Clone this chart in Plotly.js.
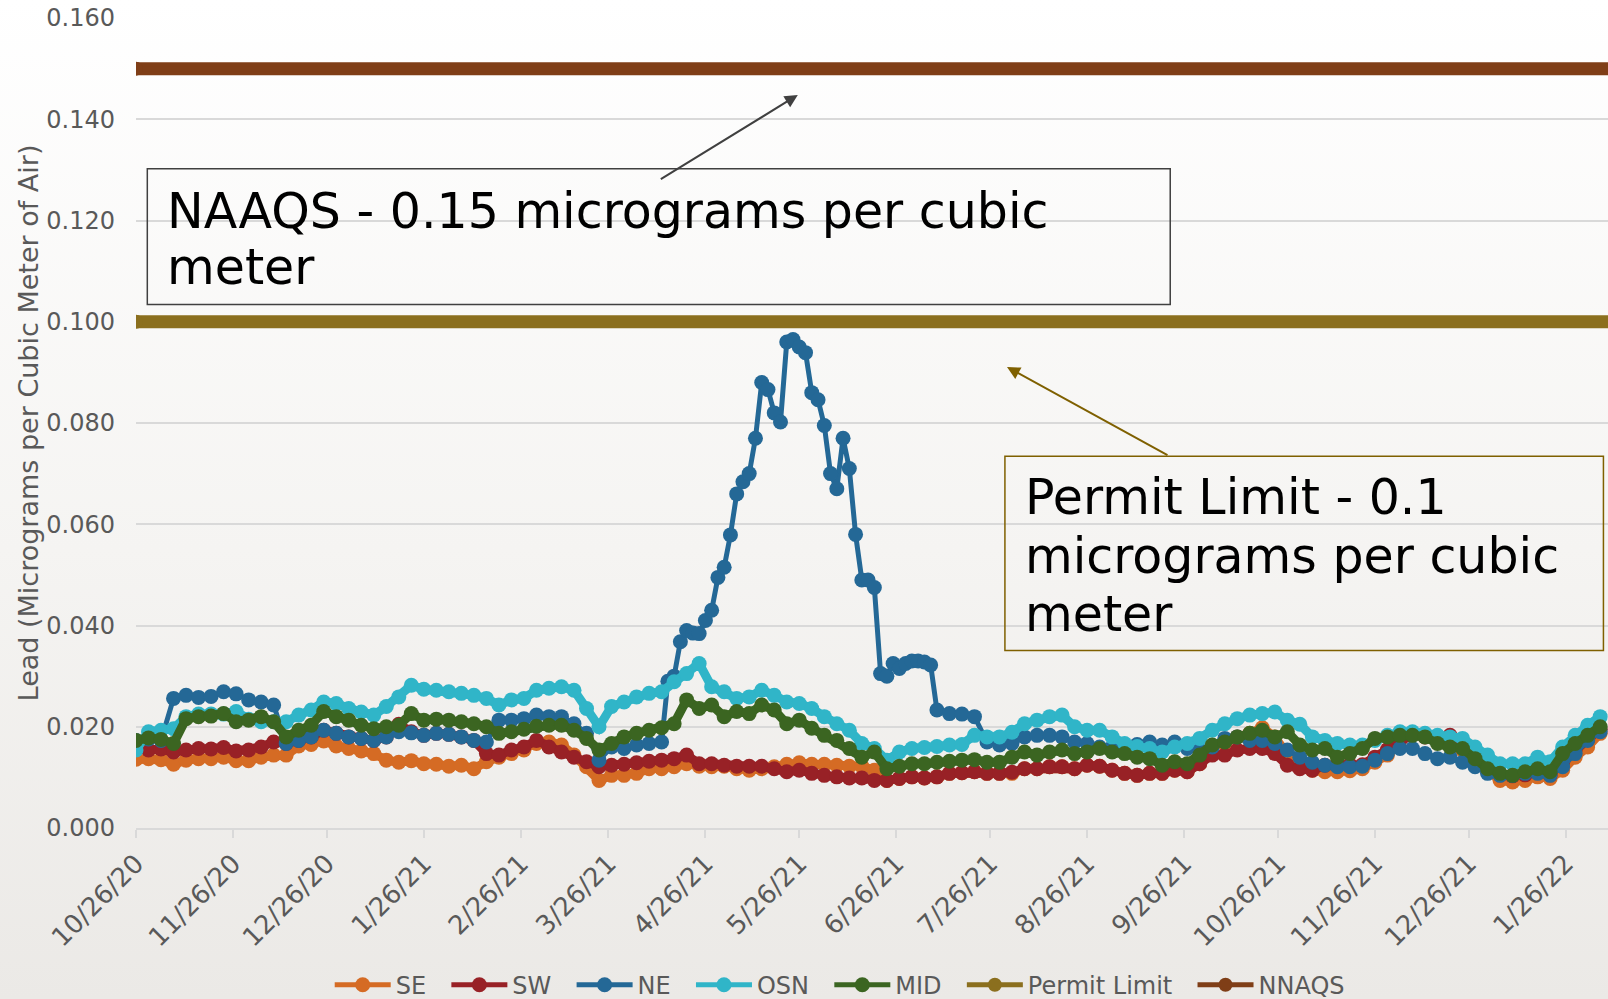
<!DOCTYPE html>
<html>
<head>
<meta charset="utf-8">
<script src="https://cdn.plot.ly/plotly-3.0.1.min.js"></script>
<style>
  html, body { margin: 0; padding: 0; }
  #wrap { width: 1608px; height: 999px; background: linear-gradient(to bottom, #ffffff 0%, #f5f4f2 55%, #ebe9e6 100%); }
  #chart { width: 1608px; height: 999px; }
</style>
</head>
<body>
<div id="wrap"><div id="chart"></div></div>
<script>
// ---- sampling grid (every 4 days from the first date) ----
const startDate = '2020-10-26';
const stepDays = 4;

// ---- series values (micrograms per cubic meter) ----
const seValues = [
  0.0136, 0.0137, 0.0135, 0.0126, 0.0134, 0.0137, 0.0137, 0.0140, 0.0133, 0.0133,
  0.0140, 0.0144, 0.0144, 0.0162, 0.0165, 0.0172, 0.0162, 0.0157, 0.0152, 0.0147,
  0.0134, 0.0130, 0.0133, 0.0127, 0.0126, 0.0122, 0.0124, 0.0117, 0.0131, 0.0140,
  0.0147, 0.0154, 0.0167, 0.0170, 0.0164, 0.0144, 0.0121, 0.0094, 0.0104, 0.0104,
  0.0108, 0.0117, 0.0117, 0.0121, 0.0127, 0.0122, 0.0121, 0.0122, 0.0117, 0.0114,
  0.0117, 0.0121, 0.0126, 0.0129, 0.0126, 0.0126, 0.0124, 0.0122, 0.0122, 0.0114,
  0.0094, 0.0098, 0.0101, 0.0099, 0.0101, 0.0108, 0.0109, 0.0111, 0.0108, 0.0108,
  0.0108, 0.0117, 0.0117, 0.0121, 0.0121, 0.0117, 0.0124, 0.0122, 0.0114, 0.0108,
  0.0104, 0.0108, 0.0108, 0.0114, 0.0111, 0.0127, 0.0160, 0.0168, 0.0180, 0.0187,
  0.0198, 0.0180, 0.0145, 0.0125, 0.0114, 0.0111, 0.0111, 0.0113, 0.0117, 0.0130,
  0.0144, 0.0173, 0.0187, 0.0183, 0.0173, 0.0167, 0.0154, 0.0134, 0.0111, 0.0094,
  0.0091, 0.0094, 0.0101, 0.0098, 0.0114, 0.0140, 0.0160, 0.0187
];
const swValues = [
  0.0158, 0.0154, 0.0156, 0.0150, 0.0154, 0.0157, 0.0156, 0.0159, 0.0152, 0.0154,
  0.0160, 0.0170, 0.0167, 0.0173, 0.0180, 0.0193, 0.0187, 0.0180, 0.0177, 0.0173,
  0.0180, 0.0205, 0.0190, 0.0183, 0.0187, 0.0185, 0.0180, 0.0173, 0.0147, 0.0144,
  0.0154, 0.0160, 0.0173, 0.0160, 0.0150, 0.0140, 0.0131, 0.0121, 0.0124, 0.0126,
  0.0129, 0.0132, 0.0134, 0.0137, 0.0144, 0.0127, 0.0127, 0.0124, 0.0122, 0.0122,
  0.0122, 0.0117, 0.0111, 0.0114, 0.0108, 0.0104, 0.0101, 0.0099, 0.0099, 0.0094,
  0.0094, 0.0098, 0.0101, 0.0099, 0.0101, 0.0108, 0.0109, 0.0111, 0.0108, 0.0108,
  0.0110, 0.0117, 0.0117, 0.0121, 0.0121, 0.0117, 0.0124, 0.0122, 0.0114, 0.0108,
  0.0104, 0.0108, 0.0108, 0.0114, 0.0111, 0.0127, 0.0144, 0.0144, 0.0154, 0.0157,
  0.0157, 0.0147, 0.0124, 0.0117, 0.0114, 0.0124, 0.0125, 0.0125, 0.0125, 0.0140,
  0.0155, 0.0175, 0.0185, 0.0180, 0.0175, 0.0183, 0.0160, 0.0135, 0.0115, 0.0105,
  0.0103, 0.0105, 0.0110, 0.0105, 0.0130, 0.0155, 0.0175, 0.0195
];
const neValues = [
  0.0173, 0.0176, 0.0173, 0.0256, 0.0262, 0.0258, 0.0260, 0.0269, 0.0265, 0.0253,
  0.0249, 0.0243, 0.0167, 0.0173, 0.0180, 0.0193, 0.0187, 0.0180, 0.0177, 0.0173,
  0.0180, 0.0190, 0.0188, 0.0183, 0.0187, 0.0185, 0.0180, 0.0173, 0.0170, 0.0213,
  0.0213, 0.0216, 0.0223, 0.0220, 0.0220, 0.0206, 0.0187, 0.0134, 0.0160, 0.0157,
  0.0164, 0.0167, 0.0170, 0.0300, 0.0390, 0.0384, 0.0430, 0.0515, 0.0660, 0.0700,
  0.0880, 0.0820, 0.0960, 0.0950, 0.0860, 0.0795, 0.0670, 0.0710, 0.0490, 0.0475,
  0.0300, 0.0315, 0.0330, 0.0328, 0.0233, 0.0226, 0.0225, 0.0220, 0.0170, 0.0164,
  0.0167, 0.0180, 0.0183, 0.0183, 0.0180, 0.0170, 0.0167, 0.0160, 0.0160, 0.0160,
  0.0165, 0.0170, 0.0164, 0.0170, 0.0157, 0.0154, 0.0160, 0.0177, 0.0180, 0.0173,
  0.0173, 0.0167, 0.0154, 0.0140, 0.0130, 0.0124, 0.0121, 0.0121, 0.0122, 0.0134,
  0.0147, 0.0157, 0.0157, 0.0147, 0.0137, 0.0140, 0.0130, 0.0121, 0.0108, 0.0104,
  0.0104, 0.0108, 0.0108, 0.0104, 0.0121, 0.0147, 0.0173, 0.0190
];
// NE extra readings two days after grid points 42..63 (the spring peak)
const neMidFirstIndex = 42;
const neMidValues = [
  0.0290, 0.0368, 0.0385, 0.0410, 0.0495, 0.0579, 0.0684, 0.0770, 0.0866, 0.0802,
  0.0965, 0.0939, 0.0846, 0.0700, 0.0770, 0.0580, 0.0490, 0.0305, 0.0325, 0.0325,
  0.0330, 0.0322
];
const osnValues = [
  0.0154, 0.0190, 0.0193, 0.0196, 0.0220, 0.0225, 0.0225, 0.0225, 0.0230, 0.0215,
  0.0210, 0.0210, 0.0210, 0.0223, 0.0233, 0.0249, 0.0246, 0.0236, 0.0229, 0.0223,
  0.0240, 0.0259, 0.0282, 0.0274, 0.0272, 0.0269, 0.0266, 0.0262, 0.0256, 0.0243,
  0.0253, 0.0256, 0.0272, 0.0276, 0.0279, 0.0272, 0.0236, 0.0200, 0.0240, 0.0249,
  0.0259, 0.0266, 0.0269, 0.0289, 0.0305, 0.0325, 0.0279, 0.0269, 0.0256, 0.0259,
  0.0272, 0.0262, 0.0249, 0.0246, 0.0236, 0.0220, 0.0206, 0.0193, 0.0167, 0.0157,
  0.0134, 0.0150, 0.0157, 0.0159, 0.0161, 0.0164, 0.0165, 0.0183, 0.0180, 0.0180,
  0.0189, 0.0206, 0.0213, 0.0220, 0.0223, 0.0200, 0.0193, 0.0193, 0.0180, 0.0167,
  0.0161, 0.0157, 0.0150, 0.0160, 0.0167, 0.0177, 0.0193, 0.0206, 0.0216, 0.0223,
  0.0226, 0.0229, 0.0213, 0.0205, 0.0180, 0.0173, 0.0167, 0.0164, 0.0164, 0.0173,
  0.0183, 0.0190, 0.0190, 0.0187, 0.0183, 0.0180, 0.0177, 0.0160, 0.0144, 0.0127,
  0.0127, 0.0127, 0.0140, 0.0131, 0.0160, 0.0183, 0.0203, 0.0220
];
const midValues = [
  0.0173, 0.0178, 0.0175, 0.0167, 0.0216, 0.0220, 0.0221, 0.0226, 0.0210, 0.0213,
  0.0220, 0.0210, 0.0180, 0.0193, 0.0203, 0.0230, 0.0220, 0.0213, 0.0203, 0.0196,
  0.0200, 0.0203, 0.0226, 0.0213, 0.0215, 0.0213, 0.0210, 0.0206, 0.0200, 0.0187,
  0.0190, 0.0195, 0.0201, 0.0203, 0.0203, 0.0193, 0.0177, 0.0154, 0.0167, 0.0180,
  0.0187, 0.0193, 0.0198, 0.0206, 0.0253, 0.0236, 0.0243, 0.0220, 0.0230, 0.0226,
  0.0243, 0.0233, 0.0206, 0.0213, 0.0197, 0.0183, 0.0173, 0.0157, 0.0140, 0.0150,
  0.0117, 0.0122, 0.0127, 0.0127, 0.0130, 0.0132, 0.0134, 0.0135, 0.0130, 0.0130,
  0.0140, 0.0150, 0.0144, 0.0150, 0.0154, 0.0147, 0.0150, 0.0157, 0.0150, 0.0147,
  0.0140, 0.0137, 0.0124, 0.0131, 0.0127, 0.0144, 0.0164, 0.0170, 0.0180, 0.0187,
  0.0193, 0.0180, 0.0190, 0.0164, 0.0154, 0.0157, 0.0140, 0.0147, 0.0157, 0.0177,
  0.0180, 0.0183, 0.0183, 0.0180, 0.0167, 0.0160, 0.0157, 0.0137, 0.0117, 0.0108,
  0.0104, 0.0111, 0.0117, 0.0111, 0.0147, 0.0167, 0.0183, 0.0200
];
const permitLimit = 0.10;
const naaqsLimit = 0.15;
const limitEndDate = '2022-02-12';

// ---- axis ticks ----
const xTickDates = ['2020-10-26','2020-11-26','2020-12-26','2021-01-26','2021-02-26','2021-03-26',
  '2021-04-26','2021-05-26','2021-06-26','2021-07-26','2021-08-26','2021-09-26','2021-10-26',
  '2021-11-26','2021-12-26','2022-01-26'];
const xTickLabels = ['10/26/20','11/26/20','12/26/20','1/26/21','2/26/21','3/26/21','4/26/21',
  '5/26/21','6/26/21','7/26/21','8/26/21','9/26/21','10/26/21','11/26/21','12/26/21','1/26/22'];
const seriesNames = ['SE','SW','NE','OSN','MID','Permit Limit','NNAQS'];
const seriesColors = ['#D56B24','#982126','#246896','#30B5C8','#3B6521','#8B6F1E','#7F3E17'];
// thickness of the dense marker band behind each series (0 = none)
const seriesBandWidths = [9, 9, 0, 9, 9];

// ---- build the date grid ----
function addDays(iso, n) {
  const t = Date.parse(iso + 'T00:00:00Z') + n * 86400000;
  return new Date(t).toISOString().slice(0, 10);
}
const dates = seValues.map((_, i) => addDays(startDate, i * stepDays));

// NE: grid readings plus the extra peak readings
const neDates = [], neSeries = [];
for (let k = 0; k < neValues.length; k++) {
  neDates.push(dates[k]); neSeries.push(neValues[k]);
  const j = k - neMidFirstIndex;
  if (j >= 0 && j < neMidValues.length) {
    neDates.push(addDays(dates[k], stepDays / 2)); neSeries.push(neMidValues[j]);
  }
}

const FONT = 'DejaVu Sans, Verdana, sans-serif';
const legendPad = '\u00a0\u00a0';
function seriesTraces(i, x, y) {
  const out = [];
  if (seriesBandWidths[i] > 0) {
    out.push({
      type: 'scatter', mode: 'lines', x: x, y: y, showlegend: false, legendgroup: seriesNames[i],
      line: { color: seriesColors[i], width: seriesBandWidths[i] }, hoverinfo: 'skip'
    });
  }
  out.push({
    type: 'scatter', mode: 'lines+markers', name: seriesNames[i] + legendPad, legendgroup: seriesNames[i],
    x: x, y: y,
    line: { color: seriesColors[i], width: 5 },
    marker: { color: seriesColors[i], size: 15 },
    hoverinfo: 'skip'
  });
  return out;
}
function limitTrace(i, value) {
  return {
    type: 'scatter', mode: 'lines+markers', name: seriesNames[i] + legendPad,
    x: [startDate, limitEndDate], y: [value, value],
    line: { color: seriesColors[i], width: 5 },
    marker: { color: seriesColors[i], size: 14 },
    hoverinfo: 'skip'
  };
}

const traces = [].concat(
  seriesTraces(0, dates, seValues),
  seriesTraces(1, dates, swValues),
  seriesTraces(2, neDates, neSeries),
  seriesTraces(3, dates, osnValues),
  seriesTraces(4, dates, midValues),
  [limitTrace(5, permitLimit), limitTrace(6, naaqsLimit)]
);

const lineAnno = (text, x, y) => ({
  text: text, xref: 'paper', yref: 'paper', x: x, y: y, xanchor: 'left', yanchor: 'middle',
  showarrow: false, font: { family: FONT, size: 49, color: '#000000' }
});

const layout = {
  width: 1608, height: 999,
  margin: { l: 136, r: 0, t: 18, b: 171, autoexpand: false },
  paper_bgcolor: 'rgba(0,0,0,0)', plot_bgcolor: 'rgba(0,0,0,0)',
  font: { family: FONT, color: '#595959' },
  showlegend: true,
  legend: {
    orientation: 'h', x: 0.4835, xanchor: 'center', y: -0.194, yanchor: 'middle',
    font: { family: FONT, size: 24, color: '#595959' }, bgcolor: 'rgba(0,0,0,0)',
    itemwidth: 56, tracegroupgap: 0
  },
  xaxis: {
    type: 'date', range: ['2020-10-26', '2022-02-08 12:00'],
    tickmode: 'array', tickvals: xTickDates, ticktext: xTickLabels,
    tickangle: -45, tickfont: { family: FONT, size: 26, color: '#595959' },
    showgrid: false, zeroline: false,
    showline: true, linecolor: '#D9D9D9', linewidth: 2,
    ticks: 'outside', ticklen: 8, tickwidth: 2, tickcolor: '#D9D9D9',
    automargin: false
  },
  yaxis: {
    range: [0, 0.16], dtick: 0.02, tick0: 0, tickformat: '.3f',
    tickfont: { family: FONT, size: 24, color: '#595959' },
    showgrid: true, gridcolor: '#D9D9D9', gridwidth: 2,
    zeroline: false, showline: false, ticks: '', ticklabelstandoff: 20,
    title: { text: 'Lead (Micrograms per Cubic Meter of Air)', font: { family: FONT, size: 27, color: '#595959' } },
    automargin: false
  },
  shapes: [
    { type: 'line', xref: 'x', yref: 'y', x0: startDate, x1: limitEndDate, y0: permitLimit, y1: permitLimit,
      line: { color: seriesColors[5], width: 13 }, layer: 'below' },
    { type: 'line', xref: 'x', yref: 'y', x0: startDate, x1: limitEndDate, y0: naaqsLimit, y1: naaqsLimit,
      line: { color: seriesColors[6], width: 13 }, layer: 'below' },
    { type: 'rect', xref: 'paper', yref: 'paper', x0: 0.00768, x1: 0.7026, y0: 0.6464, y1: 0.8138,
      line: { color: '#404040', width: 1.5 }, fillcolor: 'rgba(0,0,0,0)', layer: 'above' },
    { type: 'rect', xref: 'paper', yref: 'paper', x0: 0.5903, x1: 0.9969, y0: 0.2192, y1: 0.4588,
      line: { color: '#7F6000', width: 1.5 }, fillcolor: 'rgba(0,0,0,0)', layer: 'above' }
  ],
  annotations: [
    lineAnno('NAAQS - 0.15 micrograms per cubic', 0.0200, 0.7605),
    lineAnno('meter', 0.0200, 0.6922),
    lineAnno('Permit Limit - 0.1', 0.6025, 0.4086),
    lineAnno('micrograms per cubic', 0.6025, 0.3358),
    lineAnno('meter', 0.6025, 0.2641),
    { text: '', xref: 'paper', yref: 'paper', x: 0.4496, y: 0.905, ax: -138.5, ay: 85.1,
      showarrow: true, arrowhead: 2, arrowsize: 1.3, arrowwidth: 2, arrowcolor: '#404040' },
    { text: '', xref: 'paper', yref: 'paper', x: 0.5917, y: 0.5691, ax: 162, ay: 89,
      showarrow: true, arrowhead: 2, arrowsize: 1.3, arrowwidth: 2, arrowcolor: '#7F6000' }
  ]
};

Plotly.newPlot('chart', traces, layout, { displayModeBar: false, staticPlot: true });
</script>
</body>
</html>
